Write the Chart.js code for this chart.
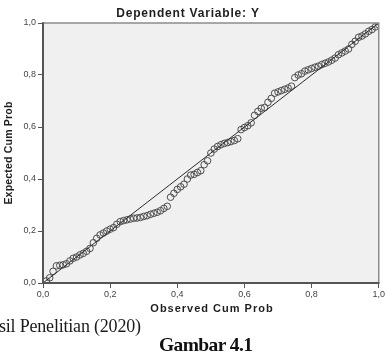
<!DOCTYPE html>
<html><head><meta charset="utf-8">
<script src="https://cdn.jsdelivr.net/npm/chart.js@4/dist/chart.umd.min.js"></script>
<style>
html,body{margin:0;padding:0;background:#fff;overflow:hidden}
#wrap{position:relative;width:386px;height:357px;overflow:hidden}
canvas{position:absolute;left:0;top:0}
.cap1{position:absolute;left:-1px;top:316px;font-family:"Liberation Serif",serif;font-size:18px;color:#1a1a1a;white-space:nowrap;letter-spacing:-0.2px}
.cap2{position:absolute;left:159px;top:334px;font-family:"Liberation Serif",serif;font-weight:bold;font-size:19.5px;color:#111;white-space:nowrap;letter-spacing:-0.6px}
</style></head>
<body>
<div id="wrap">
<canvas id="c" width="386" height="357"></canvas>
<div class="cap1">sil Penelitian (2020)</div>
<div class="cap2">Gambar 4.1</div>
</div>
<script>
const chartTitle = 'Dependent Variable: Y';
const xTitle = 'Observed Cum Prob';
const yTitle = 'Expected Cum Prob';
const tickValues = [0, 0.2, 0.4, 0.6, 0.8, 1.0];
const tickLabels = ['0,0', '0,2', '0,4', '0,6', '0,8', '1,0'];

const observedCumProb = [
  0.01,0.02,0.03,0.04,0.05,0.06,0.07,0.08,0.09,0.10,
  0.11,0.12,0.13,0.14,0.15,0.16,0.17,0.18,0.19,0.20,
  0.21,0.22,0.23,0.24,0.25,0.26,0.27,0.28,0.29,0.30,
  0.31,0.32,0.33,0.34,0.35,0.36,0.37,0.38,0.39,0.40,
  0.41,0.42,0.43,0.44,0.45,0.46,0.47,0.48,0.49,0.50,
  0.51,0.52,0.53,0.54,0.55,0.56,0.57,0.58,0.59,0.60,
  0.61,0.62,0.63,0.64,0.65,0.66,0.67,0.68,0.69,0.70,
  0.71,0.72,0.73,0.74,0.75,0.76,0.77,0.78,0.79,0.80,
  0.81,0.82,0.83,0.84,0.85,0.86,0.87,0.88,0.89,0.90,
  0.91,0.92,0.93,0.94,0.95,0.96,0.97,0.98,0.99,1.00
];
const expectedCumProb = [
  0.008,0.020,0.045,0.066,0.068,0.070,0.074,0.085,0.095,0.100,
  0.108,0.114,0.122,0.133,0.155,0.172,0.185,0.192,0.200,0.207,
  0.213,0.226,0.236,0.240,0.243,0.246,0.249,0.250,0.252,0.256,
  0.259,0.264,0.268,0.272,0.278,0.287,0.295,0.330,0.345,0.360,
  0.370,0.380,0.400,0.415,0.418,0.425,0.432,0.455,0.470,0.500,
  0.515,0.525,0.532,0.537,0.540,0.544,0.548,0.555,0.590,0.598,
  0.605,0.616,0.645,0.660,0.672,0.675,0.695,0.710,0.730,0.735,
  0.740,0.745,0.750,0.757,0.790,0.800,0.805,0.815,0.820,0.825,
  0.830,0.834,0.840,0.845,0.850,0.857,0.865,0.878,0.885,0.892,
  0.900,0.918,0.930,0.945,0.950,0.958,0.968,0.975,0.985,0.993
];
const refLineX = [0, 1];
const refLineY = [0, 1];

const pts = observedCumProb.map((x, i) => ({x: x, y: expectedCumProb[i]}));
const ref = refLineX.map((x, i) => ({x: x, y: refLineY[i]}));

const framePlugin = {
  id: 'frame',
  beforeDraw(chart) {
    const {ctx, chartArea: a} = chart;
    ctx.save();
    ctx.fillStyle = '#f0f0f0';
    ctx.fillRect(a.left, a.top, a.right - a.left, a.bottom - a.top);
    ctx.restore();
  },
  afterDraw(chart) {
    const {ctx, chartArea: a} = chart;
    ctx.save();
    ctx.strokeStyle = '#8c8c8c';
    ctx.lineWidth = 1.5;
    ctx.beginPath();
    ctx.moveTo(a.left, a.top); ctx.lineTo(a.right, a.top); ctx.lineTo(a.right, a.bottom);
    ctx.stroke();
    ctx.strokeStyle = '#555';
    ctx.lineWidth = 2;
    ctx.beginPath();
    ctx.moveTo(a.left, a.top - 0.75); ctx.lineTo(a.left, a.bottom); ctx.lineTo(a.right + 0.75, a.bottom);
    ctx.stroke();
    // texts
    ctx.fillStyle = '#1e1e1e';
    ctx.textAlign = 'center';
    ctx.textBaseline = 'middle';
    ctx.font = 'bold 12px "Liberation Sans", Arial, sans-serif';
    if ('letterSpacing' in ctx) ctx.letterSpacing = '0.8px';
    ctx.fillText(chartTitle, 188, 14);
    ctx.font = 'bold 11px "Liberation Sans", Arial, sans-serif';
    if ('letterSpacing' in ctx) ctx.letterSpacing = '1px';
    ctx.fillText(xTitle, 212, 309);
    ctx.font = 'bold 10.5px "Liberation Sans", Arial, sans-serif';
    ctx.translate(9, 153);
    ctx.rotate(-Math.PI / 2);
    if ('letterSpacing' in ctx) ctx.letterSpacing = '0.2px';
    ctx.fillText(yTitle, 0, 0);
    ctx.restore();
  }
};

function tickCb(v) {
  const i = tickValues.findIndex(t => Math.abs(t - v) < 1e-6);
  return i >= 0 ? tickLabels[i] : '';
}

new Chart(document.getElementById('c'), {
  type: 'scatter',
  data: {
    datasets: [
      {
        data: pts,
        pointRadius: 3.3,
        pointBorderWidth: 1,
        pointBorderColor: '#4d4d4d',
        pointBackgroundColor: 'rgba(0,0,0,0)',
        showLine: false,
        order: 2
      },
      {
        data: ref,
        showLine: true,
        borderColor: '#2a2a2a',
        borderWidth: 1,
        pointRadius: 0,
        fill: false,
        order: 1
      }
    ]
  },
  options: {
    responsive: false,
    animation: false,
    layout: {padding: {top: 23, right: 7, left: 0, bottom: 0}},
    plugins: {legend: {display: false}, tooltip: {enabled: false}, title: {display: false}},
    scales: {
      x: {
        type: 'linear', min: 0, max: 1,
        afterFit: s => { s.height = 74; },
        afterBuildTicks: s => { s.ticks = tickValues.map(v => ({value: v})); },
        ticks: {callback: tickCb, font: {size: 9, family: '"Liberation Sans", Arial'}, color: '#444', padding: 1, maxRotation: 0},
        grid: {drawOnChartArea: false, tickLength: 5, color: '#555', lineWidth: 1},
        border: {display: false}
      },
      y: {
        type: 'linear', min: 0, max: 1,
        afterFit: s => { s.width = 43; },
        afterBuildTicks: s => { s.ticks = tickValues.map(v => ({value: v})); },
        ticks: {callback: tickCb, font: {size: 9, family: '"Liberation Sans", Arial'}, color: '#444', padding: 2},
        grid: {drawOnChartArea: false, tickLength: 5, color: '#555', lineWidth: 1},
        border: {display: false}
      }
    }
  },
  plugins: [framePlugin]
});
</script>
</body></html>
